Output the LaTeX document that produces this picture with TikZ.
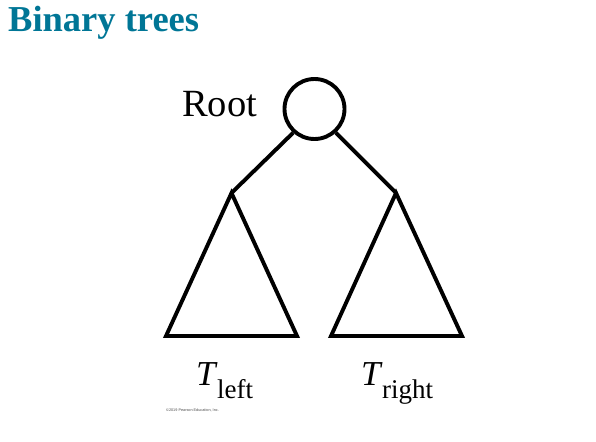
\documentclass[tikz,border=0pt]{standalone}
\usepackage{fontspec}
\setmainfont{Liberation Serif}
\newfontfamily\cprfont{Liberation Sans}
\definecolor{titleteal}{RGB}{0,118,150}
\begin{document}
\begin{tikzpicture}[x=1pt,y=-1pt,
  edge/.style={line width=3.9pt,line join=miter},
  lbl/.style={inner sep=0pt,anchor=base west}]
\useasboundingbox (0,0) rectangle (596,441);
\node[lbl,font=\bfseries\fontsize{36.5}{36.5}\selectfont,text=titleteal] (title) at (8,32) {Binary trees};
\node[draw,circle,line width=3.9pt,minimum size=60pt,inner sep=0pt] (root) at (314.5,109) {};
\node[lbl,font=\fontsize{38.5}{38.5}\selectfont] (rootlbl) at (182,117) {Root};
\coordinate (la) at (231.5,193);
\coordinate (ra) at (396,193);
\coordinate (lbl1) at (166,336);
\coordinate (lbr) at (297,336);
\coordinate (rbl) at (331,336);
\coordinate (rbr) at (462,336);
\draw[edge] (root.228) -- (la);
\draw[edge] (root.-48) -- (ra);
\draw[edge] (la) -- (lbl1) -- (lbr) -- cycle;
\draw[edge] (ra) -- (rbl) -- (rbr) -- cycle;
\node[lbl,font=\fontsize{35}{35}\selectfont] (tl) at (196,385) {\itshape T\kern1.5pt\raisebox{-13pt}{\upshape\fontsize{27}{27}\selectfont left}};
\node[lbl,font=\fontsize{35}{35}\selectfont] (tr) at (361,385) {\itshape T\kern1.5pt\raisebox{-13pt}{\upshape\fontsize{27}{27}\selectfont right}};
\node[lbl,font=\cprfont\fontsize{3.8}{4}\selectfont,text=black!70] (cpr) at (166,411) {\textcopyright 2019 Pearson Education, Inc.};
\end{tikzpicture}
\end{document}
